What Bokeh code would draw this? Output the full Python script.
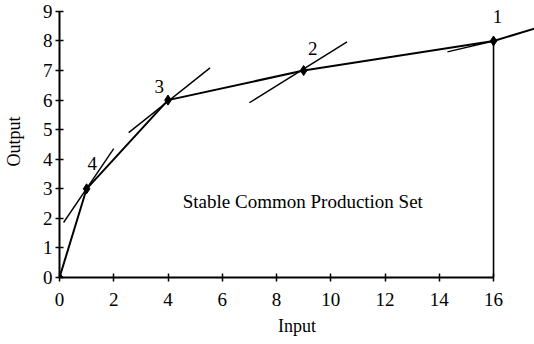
from bokeh.plotting import figure
from bokeh.models import Range1d, FixedTicker
from bokeh.core.properties import value
from bokeh.embed import file_html
from bokeh.resources import INLINE

# Frontier points (Input, Output)
px = [0, 1, 4, 9, 16]
py = [0, 3, 6, 7, 8]
# frontier extension beyond 16
ext_x = [16, 17.51]
ext_y = [8, 8.42]
# vertical line down from point 1
vert_x = [16, 16]
vert_y = [8, 0]
# tangent (price) lines at each point: start/end
tan_x0 = [0.15, 2.55, 7.0, 14.3]
tan_y0 = [1.86, 4.9, 5.91, 7.63]
tan_x1 = [2.0, 5.55, 10.6, 16.0]
tan_y1 = [4.36, 7.09, 7.97, 8.0]
# point labels
lab_text = ["1", "2", "3", "4"]
lab_x = [16.15, 9.34, 3.68, 1.21]
lab_y = [8.84, 7.74, 6.45, 3.84]
x_ticks = [0, 2, 4, 6, 8, 10, 12, 14, 16]
y_ticks = [0, 1, 2, 3, 4, 5, 6, 7, 8, 9]

FONT = "Liberation Serif"
FS = "19px"

p = figure(width=534, height=344, output_backend="svg", toolbar_location=None,
           x_range=Range1d(0, 17.51), y_range=Range1d(0, 9.2),
           min_border_left=58, min_border_right=0, min_border_top=5, min_border_bottom=67)
p.outline_line_color = None
p.grid.visible = False
p.background_fill_color = "white"

for ax in (p.xaxis[0], p.yaxis[0]):
    ax.axis_line_width = 2
    ax.axis_line_color = "black"
    ax.major_tick_in = 4
    ax.major_tick_out = 4
    ax.major_tick_line_width = 1.5
    ax.minor_tick_line_color = None
    ax.major_label_text_font = FONT
    ax.major_label_text_font_size = FS
    ax.major_label_text_color = "black"
    ax.axis_label_text_font = FONT
    ax.axis_label_text_font_size = "18px"
    ax.axis_label_text_font_style = "normal"
    ax.axis_label_text_color = "black"

p.xaxis.ticker = FixedTicker(ticks=x_ticks)
p.yaxis.ticker = FixedTicker(ticks=y_ticks)
p.xaxis.bounds = (0, 16)
p.yaxis.bounds = (0, 9)
p.xaxis.axis_label = "Input"
p.yaxis.axis_label = "Output"
p.xaxis.major_label_standoff = 11
p.yaxis.major_label_standoff = 3
p.xaxis.axis_label_standoff = 7
p.yaxis.axis_label_standoff = 16

p.line(px, py, line_color="black", line_width=2)
p.line(ext_x, ext_y, line_color="black", line_width=2)
p.line(vert_x, vert_y, line_color="black", line_width=1.6)
p.segment(tan_x0, tan_y0, tan_x1, tan_y1, line_color="black", line_width=1.4)
p.scatter(px, py, marker="diamond", size=10, color="black")
p.text(lab_x, lab_y, text=lab_text, text_font=value(FONT), text_font_size=FS,
       text_align="center", text_baseline="middle", text_color="black")
p.text([8.97], [2.58], text=["Stable Common Production Set"], text_font=value(FONT),
       text_font_size=FS, text_align="center", text_baseline="middle", text_color="black")

open("out.html", "w").write(file_html(p, INLINE))
